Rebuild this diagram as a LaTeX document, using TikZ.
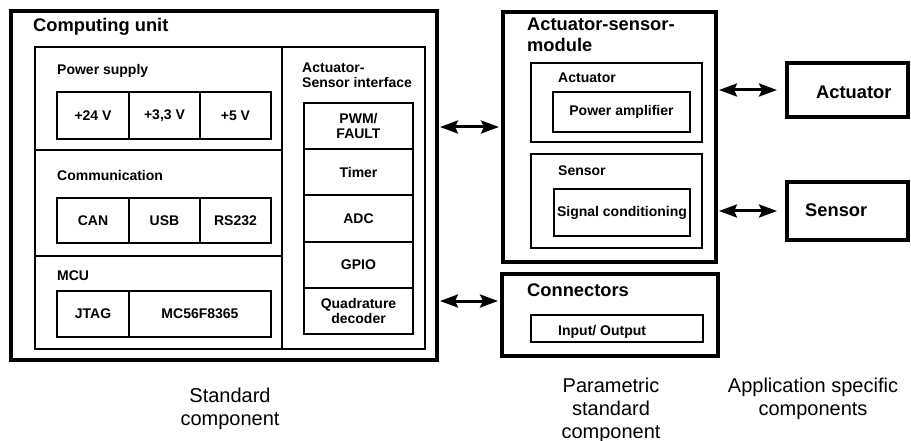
\documentclass[tikz,border=0pt]{standalone}
\usepackage{fontspec}
\setmainfont{Liberation Sans}
\usetikzlibrary{positioning, arrows.meta}

\tikzset{
  bigbox/.style={draw, line width=3.5pt, inner sep=0pt, outer sep=0pt, anchor=north west},
  box/.style={draw, line width=2pt, inner sep=0pt, outer sep=0pt, anchor=north west},
  cell/.style={draw, line width=2pt, inner sep=0pt, outer sep=0pt, align=center,
    font=\fontsize{14}{15}\selectfont\bfseries},
  head/.style={anchor=base west, inner sep=0pt, align=left,
    font=\fontsize{18.3}{21}\selectfont\bfseries},
  sub/.style={anchor=base west, inner sep=0pt, align=left,
    font=\fontsize{14}{15}\selectfont\bfseries},
  caption/.style={anchor=base, inner sep=0pt, align=center,
    font=\fontsize{20}{23}\selectfont},
  biarrow/.style={line width=3pt,
    {Stealth[length=18pt,width=13pt,inset=3pt]}-{Stealth[length=18pt,width=13pt,inset=3pt]}}
}

\begin{document}
\begin{tikzpicture}[x=1pt, y=-1pt]
  \useasboundingbox (0,0) rectangle (911,441);

  % computing unit
  \node[bigbox, minimum width=426pt, minimum height=349pt] (cu) at (11,11) {};
  \node[head] (cutitle) at (33,32) {Computing unit};
  \node[box, minimum width=247pt, minimum height=103pt] (pwr) at (35,47) {};
  \node[box, minimum width=247pt, minimum height=106pt] (com) at (35,150) {};
  \node[box, minimum width=247pt, minimum height=93pt] (mcu) at (35,256) {};
  \node[box, minimum width=143pt, minimum height=302pt] (asi) at (282,47) {};

  % power supply
  \node[sub] (pwrtitle) at (57,75) {Power supply};
  \node[cell, minimum width=72pt, minimum height=47pt, anchor=north west] (v24) at (57,92) {+24 V};
  \node[cell, minimum width=71pt, minimum height=47pt, right=0pt of v24] (v33) {+3,3 V};
  \node[cell, minimum width=71pt, minimum height=47pt, right=0pt of v33] (v5) {+5 V};

  % communication
  \node[sub] (comtitle) at (57,181) {Communication};
  \node[cell, minimum width=72pt, minimum height=45pt, anchor=north west] (can) at (57,198) {CAN};
  \node[cell, minimum width=71pt, minimum height=45pt, right=0pt of can] (usb) {USB};
  \node[cell, minimum width=71pt, minimum height=45pt, right=0pt of usb] (rs) {RS232};

  % mcu
  \node[sub] (mcutitle) at (57,280) {MCU};
  \node[cell, minimum width=72pt, minimum height=46pt, anchor=north west] (jtag) at (57,291) {JTAG};
  \node[cell, minimum width=142pt, minimum height=46pt, right=0pt of jtag] (mc) {MC56F8365};

  % actuator-sensor interface
  \node[sub] (asititle) at (302,88) {Actuator-\\Sensor interface};
  \node[cell, minimum width=109pt, minimum height=46.2pt, anchor=north west] (pwm) at (304,103) {PWM/\\FAULT};
  \node[cell, minimum width=109pt, minimum height=46.2pt, below=0pt of pwm] (timer) {Timer};
  \node[cell, minimum width=109pt, minimum height=46.2pt, below=0pt of timer] (adc) {ADC};
  \node[cell, minimum width=109pt, minimum height=46.2pt, below=0pt of adc] (gpio) {GPIO};
  \node[cell, minimum width=109pt, minimum height=46.2pt, below=0pt of gpio] (quad) {Quadrature\\decoder};

  % actuator-sensor module
  \node[bigbox, minimum width=213pt, minimum height=250pt] (asm) at (503,12) {};
  \node[head] (asmtitle) at (527,52) {Actuator-sensor-\\module};
  \node[box, minimum width=171pt, minimum height=79pt] (act) at (531,63) {};
  \node[sub] (acttitle) at (558,83) {Actuator};
  \node[cell, minimum width=137pt, minimum height=40pt, anchor=north west] (amp) at (553,92) {Power amplifier};
  \node[box, minimum width=171pt, minimum height=94pt] (sen) at (531,154) {};
  \node[sub] (sentitle) at (558,176) {Sensor};
  \node[cell, minimum width=136pt, minimum height=47pt, anchor=north west] (sig) at (554,189) {Signal conditioning};

  % connectors
  \node[bigbox, minimum width=216pt, minimum height=82pt] (con) at (502,274) {};
  \node[head] (contitle) at (527,296) {Connectors};
  \node[box, minimum width=172pt, minimum height=27pt] (io) at (531,315) {};
  \node[sub] (iotext) at (558,335) {Input/ Output};

  % application specific
  \node[bigbox, minimum width=121pt, minimum height=54pt] (actr) at (787,63) {};
  \node[head] (actrtext) at (816,99) {Actuator};
  \node[bigbox, minimum width=121pt, minimum height=58pt] (senr) at (787,182) {};
  \node[head] (senrtext) at (805,217) {Sensor};

  % links
  \coordinate (l1) at (0,127);
  \coordinate (l2) at (0,301);
  \coordinate (r1) at (0,90);
  \coordinate (r2) at (0,211);
  \draw[biarrow, shorten <=3pt, shorten >=4pt] (cu.east |- l1) -- (asm.west |- l1);
  \draw[biarrow, shorten <=3pt, shorten >=4pt] (cu.east |- l2) -- (con.west |- l2);
  \draw[biarrow, shorten <=3pt, shorten >=10pt] (asm.east |- r1) -- (actr.west |- r1);
  \draw[biarrow, shorten <=3pt, shorten >=10pt] (asm.east |- r2) -- (senr.west |- r2);

  % captions
  \node[caption] (stdcap) at (230,425) {Standard\\component};
  \node[caption] (parcap) at (611,438) {Parametric\\standard\\component};
  \node[caption] (appcap) at (813,415) {Application specific\\components};
\end{tikzpicture}
\end{document}
